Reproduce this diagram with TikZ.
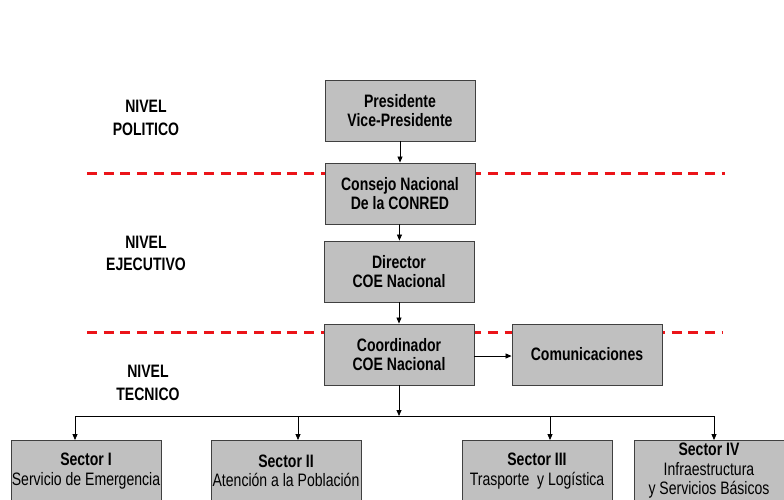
\documentclass[tikz,border=0pt]{standalone}
\usepackage{fontspec}
\usepackage{tikz}
\usetikzlibrary{arrows.meta}
\newfontfamily\narrowsf[FakeStretch=0.78]{Liberation Sans}
\definecolor{sepred}{RGB}{235,20,25}
\definecolor{boxgray}{RGB}{192,192,192}

\begin{document}
\begin{tikzpicture}[x=1pt, y=-1pt,
	>={Triangle[length=6pt,width=5pt]},
	box/.style={draw=black!75, line width=0.9pt, fill=boxgray, minimum width=150pt, minimum height=61pt, inner sep=0pt, align=center, font=\narrowsf\bfseries\fontsize{18}{19.5}\selectfont},
	level/.style={align=center, font=\narrowsf\bfseries\fontsize{18}{22.5}\selectfont},
	sepline/.style={draw=sepred, line width=3pt, dash pattern=on 10pt off 6.7pt}]
	\useasboundingbox (0,0) rectangle (784,499);
	\clip (0,0) rectangle (784,499);
	% niveles
	\node[level] (polit) at (146,118) {NIVEL\\POLITICO};
	\node[level] (ejec) at (146,253.5) {NIVEL\\EJECUTIVO};
	\node[level] (tecn) at (148,383) {NIVEL\\TECNICO};
	% separadores
	\coordinate (sepAl) at (87,173);
	\coordinate (sepAr) at (725,173);
	\coordinate (sepBl) at (87,332);
	\coordinate (sepBr) at (722,332);
	\draw[sepline] (sepAl) -- (sepAr);
	\draw[sepline] (sepBl) -- (sepBr);
	% cajas
	\node[box] (pres) at (400,110.5) {Presidente\\Vice-Presidente};
	\node[box] (conred) at (400,193.5) {Consejo Nacional\\De la CONRED};
	\node[box] (dir) at (399,271.5) {Director\\COE Nacional};
	\node[box] (coord) at (399,354.5) {Coordinador\\COE Nacional};
	\node[box] (com) at (587,354.5) {Comunicaciones};
	\node[box] (sec1) at (86,471) {Sector I\\\textmd{Servicio de Emergencia}};
	\node[box] (sec2) at (286,471) {Sector II\\\textmd{Atención a la Población}};
	\node[box] (sec3) at (537,471) {Sector III\\\textmd{Trasporte \ y Logística}};
	\node[box] (sec4) at (709,471) {Sector IV\\\textmd{Infraestructura}\\\textmd{y Servicios Básicos}};
	% conexiones
	\draw[->, line width=0.8pt] (pres) -- (conred);
	\draw[->, line width=0.8pt] (conred) -- (dir);
	\draw[->, line width=0.8pt] (dir) -- (coord);
	\draw[->, line width=0.8pt] (coord.east |- 0,356) -- (com.west |- 0,356);
	\coordinate (bus) at (399,416);
	\coordinate (bus1) at (75,416);
	\coordinate (bus2) at (298,416);
	\coordinate (bus3) at (550,416);
	\coordinate (bus4) at (714,416);
	\draw[->, line width=0.8pt] (coord) -- (bus);
	\draw[line width=0.8pt] (bus1) -- (bus4);
	\foreach \i in {1,...,4}
		\draw[->, line width=0.8pt] (bus\i) -- (bus\i |- sec\i.north);
\end{tikzpicture}
\end{document}
